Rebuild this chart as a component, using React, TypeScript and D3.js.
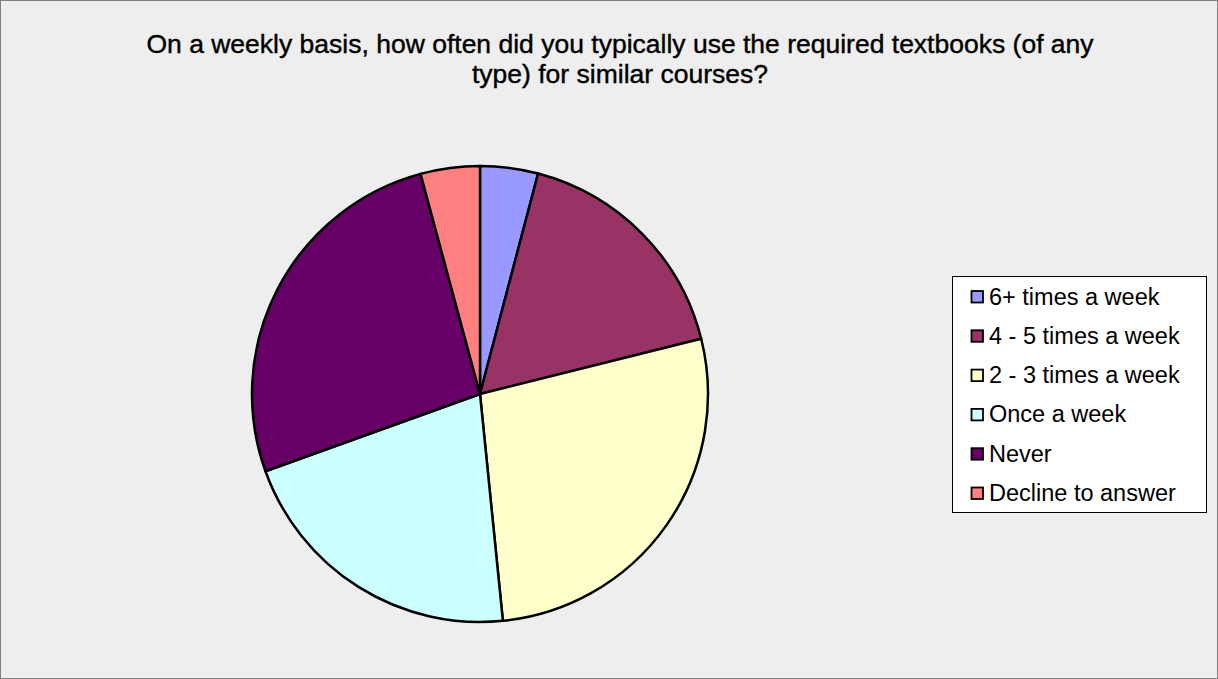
import React from "react";
import * as d3 from "d3";

const categories = ["6+ times a week", "4 - 5 times a week", "2 - 3 times a week", "Once a week", "Never", "Decline to answer"];
const values = [4.1, 17.0, 27.3, 21.1, 26.3, 4.2];
const colors = ["#9999FF", "#993366", "#FFFFCC", "#CCFFFF", "#660066", "#FF8080"];
const titleLines = ["On a weekly basis, how often did you typically use the required textbooks (of any", "type) for similar courses?"];

export default function App() {
  const W = 1218, H = 679;
  const cx = 480, cy = 394, r = 228;
  const pie = d3.pie<number>().sort(null).value((d) => d);
  const arcs = pie(values);
  const arcGen = d3.arc<d3.PieArcDatum<number>>().innerRadius(0).outerRadius(r);
  const legendX = 952, legendY = 276, legendW = 254, legendH = 236;
  const rowStep = 39.3;
  const font = "'Liberation Sans', Arial, sans-serif";
  return (
    <svg width={W} height={H} style={{ position: "absolute", left: 0, top: 0 }}>
      <rect x={0.5} y={0.5} width={W - 1} height={H - 1} fill="#EEEEEE" stroke="#808080" strokeWidth={1} />
      {titleLines.map((t, i) => (
        <text key={i} x={620} y={53 + i * 30} textAnchor="middle" fontFamily={font} fontSize={26.5} fill="#000" stroke="#000" strokeWidth={0.4}>
          {t}
        </text>
      ))}
      <g transform={`translate(${cx},${cy})`}>
        {arcs.map((a, i) => (
          <path key={i} d={arcGen(a) || ""} fill={colors[i]} stroke="#000" strokeWidth={2.5} strokeLinejoin="round" />
        ))}
      </g>
      <rect x={legendX + 0.5} y={legendY + 0.5} width={legendW} height={legendH} fill="#FFFFFF" stroke="#000" strokeWidth={1} />
      {categories.map((c, i) => {
        const yc = legendY + 20.5 + i * rowStep;
        return (
          <g key={c}>
            <rect x={971.5} y={yc - 5.5} width={11.5} height={11.5} fill={colors[i]} stroke="#000" strokeWidth={1.8} />
            <text x={989} y={yc + 8} fontFamily={font} fontSize={23.5} fill="#000">
              {c}
            </text>
          </g>
        );
      })}
    </svg>
  );
}
